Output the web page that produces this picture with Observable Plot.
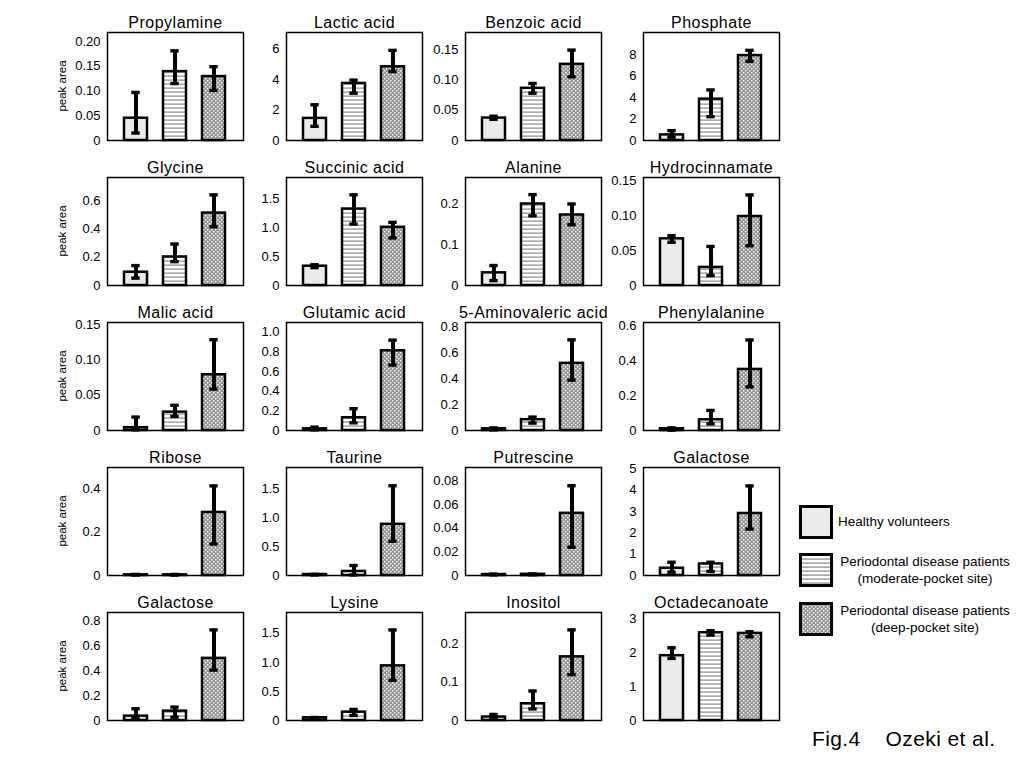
<!DOCTYPE html>
<html><head><meta charset="utf-8">
<script src="https://cdn.jsdelivr.net/npm/d3@7"></script>
<script src="https://cdn.jsdelivr.net/npm/@observablehq/plot@0.6"></script>
<style>
body{margin:0;background:#fff;}
#root{position:relative;width:1024px;height:768px;overflow:hidden;font-family:"Liberation Sans",Arial,sans-serif;color:#000;}
.cell{position:absolute;}
.cell svg{overflow:visible;background:transparent;}
.lab{position:absolute;white-space:nowrap;}
</style></head><body><div id="root"></div><script>
// ---------- data ----------
const titles = ["Propylamine","Lactic acid","Benzoic acid","Phosphate",
  "Glycine","Succinic acid","Alanine","Hydrocinnamate",
  "Malic acid","Glutamic acid","5-Aminovaleric acid","Phenylalanine",
  "Ribose","Taurine","Putrescine","Galactose",
  "Galactose","Lysine","Inositol","Octadecanoate"];
const groups = ["Healthy volunteers",
  "Periodontal disease patients (moderate-pocket site)",
  "Periodontal disease patients (deep-pocket site)"];
const healthyMean = [0.045,1.45,0.037,0.52, 0.094,0.335,0.031,0.067, 0.004,0.017,0.013,0.010, 0.003,0.017,0.0008,0.34, 0.035,0.046,0.009,1.92];
const healthyLo   = [0.015,0.93,0.035,0.31, 0.052,0.31,0.012,0.062, 0.001,0.007,0.005,0.002, 0.002,0.010,0.0005,0.155, 0.021,0.035,0.004,1.84];
const healthyHi   = [0.097,2.34,0.040,0.92, 0.141,0.36,0.049,0.0714, 0.019,0.034,0.020,0.015, 0.005,0.020,0.0012,0.62, 0.094,0.052,0.0157,2.155];
const moderateMean = [0.139,3.74,0.086,3.85, 0.202,1.327,0.200,0.026, 0.026,0.13,0.083,0.0615, 0.003,0.07,0.001,0.54, 0.075,0.144,0.0435,2.60];
const moderateLo   = [0.115,3.10,0.078,2.22, 0.169,1.067,0.171,0.0143, 0.020,0.078,0.057,0.038, 0.002,0.010,0.0006,0.19, 0.027,0.087,0.030,2.53];
const moderateHi   = [0.181,3.96,0.094,4.71, 0.294,1.575,0.223,0.056, 0.0357,0.222,0.103,0.115, 0.005,0.173,0.0013,0.62, 0.107,0.19,0.0765,2.66];
const deepMean = [0.129,4.83,0.1255,7.91, 0.513,1.01,0.173,0.099, 0.079,0.812,0.516,0.35, 0.292,0.889,0.0525,2.9, 0.497,0.94,0.165,2.58];
const deepLo   = [0.101,4.52,0.105,7.38, 0.416,0.825,0.149,0.057, 0.0586,0.666,0.387,0.25, 0.146,0.594,0.0239,2.17, 0.403,0.69,0.119,2.48];
const deepHi   = [0.149,5.91,0.149,8.4, 0.642,1.096,0.200,0.13, 0.1286,0.92,0.697,0.519, 0.415,1.558,0.0758,4.19, 0.725,1.558,0.235,2.63];
const yMax = [0.218,7.08,0.178,10.06, 0.765,1.875,0.265,0.155, 0.153,1.10,0.83,0.619, 0.5,1.875,0.0912,5.05, 0.864,1.858,0.28,3.2];
const tickLabels = [
  ["0","0.05","0.10","0.15","0.20"],["0","2","4","6"],["0","0.05","0.10","0.15"],["0","2","4","6","8"],
  ["0","0.2","0.4","0.6"],["0","0.5","1.0","1.5"],["0","0.1","0.2"],["0","0.05","0.10","0.15"],
  ["0","0.05","0.10","0.15"],["0","0.2","0.4","0.6","0.8","1.0"],["0","0.2","0.4","0.6","0.8"],["0","0.2","0.4","0.6"],
  ["0","0.2","0.4"],["0","0.5","1.0","1.5"],["0","0.02","0.04","0.06","0.08"],["0","1","2","3","4","5"],
  ["0","0.2","0.4","0.6","0.8"],["0","0.5","1.0","1.5"],["0","0.1","0.2"],["0","1","2","3"]];
const yLabel = "peak area";
const legendLines = [["Healthy volunteers"],["Periodontal disease patients","(moderate-pocket site)"],["Periodontal disease patients","(deep-pocket site)"]];
const caption = "Fig.4    Ozeki et al.";

// ---------- layout / style ----------
const root = d3.select("#root");
const defs = root.append("svg").attr("width",0).attr("height",0).style("position","absolute").append("defs");
const hp = defs.append("pattern").attr("id","hatch").attr("patternUnits","userSpaceOnUse").attr("width",4).attr("height",4);
hp.append("rect").attr("width",4).attr("height",4).attr("fill","#fff");
hp.append("rect").attr("y",1.5).attr("width",4).attr("height",1.2).attr("fill","#8a8a8a");
const dp = defs.append("pattern").attr("id","dots").attr("patternUnits","userSpaceOnUse").attr("width",4).attr("height",4);
dp.append("rect").attr("width",4).attr("height",4).attr("fill","#969696");
dp.append("rect").attr("x",0).attr("y",0).attr("width",1.4).attr("height",1.4).attr("fill","#fff");
dp.append("rect").attr("x",2).attr("y",2).attr("width",1.4).attr("height",1.4).attr("fill","#fff");
const fills = ["#ebebeb","url(#hatch)","url(#dots)"];

const colLeft = [107,286,465,643];
const rowBottom = [140,285,430,575,720];
const FW = 136, FH = 108, ML = 50, MR = 14, MT = 30, MB = 6;
const tickFont = '"Liberation Sans Narrow","Liberation Sans",Arial,sans-serif';

titles.forEach((title,i) => {
  const r = Math.floor(i/4), c = i%4;
  const rows = [
    {k:0,g:groups[0],mean:healthyMean[i],lo:healthyLo[i],hi:healthyHi[i]},
    {k:1,g:groups[1],mean:moderateMean[i],lo:moderateLo[i],hi:moderateHi[i]},
    {k:2,g:groups[2],mean:deepMean[i],lo:deepLo[i],hi:deepHi[i]}];
  const labs = tickLabels[i];
  const tmap = new Map(labs.map(s => [+s, s]));
  const chart = Plot.plot({
    width: ML+FW+MR, height: MT+FH+MB,
    marginLeft: ML, marginRight: MR, marginTop: MT, marginBottom: MB,
    x: {type:"band", domain: groups, padding: 0.4, axis: null},
    y: {domain: [0, yMax[i]], axis: null},
    color: {type: "identity"},
    style: {background:"transparent", overflow:"visible", fontFamily:'"Liberation Sans",Arial,sans-serif'},
    marks: [
      Plot.barY(rows, {x:"g", y:"mean", fill: d => fills[d.k], stroke:"#000", strokeWidth:2.5}),
      Plot.frame({stroke:"#000", strokeWidth:1.5}),
      Plot.ruleX(rows, {x:"g", y1:"lo", y2:"hi", stroke:"#000", strokeWidth:4}),
      Plot.tickY(rows, {x:"g", y:"lo", stroke:"#000", strokeWidth:3.4, insetLeft:7.3, insetRight:7.3}),
      Plot.tickY(rows, {x:"g", y:"hi", stroke:"#000", strokeWidth:3.4, insetLeft:7.3, insetRight:7.3}),
      Plot.axisY({ticks: labs.map(Number), tickFormat: d => tmap.get(d), tickSize:0, tickPadding:7, label:null,
        fontSize:13, fontFamily: tickFont, fill:"#000"}),
      Plot.text([title], {frameAnchor:"top", dy:-5, lineAnchor:"bottom", fontSize:16, fill:"#000",
        fontFamily:'"Liberation Sans",Arial,sans-serif', className:"ptitle"})
    ]
  });
  d3.select(chart).selectAll(".ptitle text").style("letter-spacing","0.5px");
  root.append("div").attr("class","cell")
    .style("left",(colLeft[c]-ML)+"px").style("top",(rowBottom[r]-FH-MT)+"px")
    .node().appendChild(chart);
  if (c === 0) {
    root.append("div").attr("class","lab").text(yLabel)
      .style("left","62px").style("top",(rowBottom[r]-FH/2)+"px")
      .style("font-size","11.5px")
      .style("transform","translate(-50%,-50%) rotate(-90deg)");
  }
});

// legend
const legTop = [505,553,602];
legendLines.forEach((lines,k) => {
  const s = root.append("svg").style("position","absolute").style("left","799px").style("top",legTop[k]+"px")
    .attr("width",34).attr("height",34);
  s.append("rect").attr("x",1.5).attr("y",1.5).attr("width",31).attr("height",31)
    .attr("fill",fills[k]).attr("stroke","#000").attr("stroke-width",3);
  const d = root.append("div").attr("class","lab").style("font-size","13.5px").style("line-height","16.5px");
  if (lines.length === 1) {
    d.style("left","838px").style("top",(legTop[k]+17-8)+"px").text(lines[0]);
  } else {
    d.style("left","834px").style("width","182px").style("text-align","center")
     .style("top",(legTop[k]+1)+"px").html(lines.join("<br>"));
  }
});
root.append("div").attr("class","lab").style("left","812px").style("top","727px")
  .style("font-size","21px").style("letter-spacing","0.4px").style("white-space","pre").text(caption);
</script></body></html>
